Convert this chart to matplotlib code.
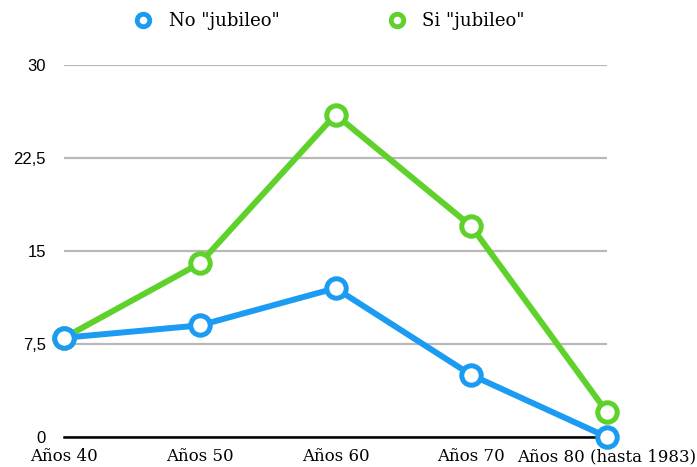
import matplotlib.pyplot as plt
from matplotlib.lines import Line2D

categorias = ["Años 40", "Años 50", "Años 60", "Años 70", "Años 80 (hasta 1983)"]
no_jubileo = [8, 9, 12, 5, 0]
si_jubileo = [8, 14, 26, 17, 2]
yticks = [0, 7.5, 15, 22.5, 30]
ytick_labels = ["0", "7,5", "15", "22,5", "30"]

azul = "#1b9cf2"
verde = "#5fd12b"

fig = plt.figure(figsize=(6.97, 4.67), dpi=100)
ax = fig.add_axes([64 / 697, 1 - 437 / 467, (607 - 64) / 697, (437 - 65) / 467])

x = list(range(len(categorias)))
for vals, col in [(si_jubileo, verde), (no_jubileo, azul)]:
    ax.plot(x, vals, color=col, lw=4.3, marker="o", ms=14, mew=3.6,
            mfc="white", mec=col, clip_on=False, zorder=3)

ax.set_xlim(0, len(categorias) - 1)
ax.set_ylim(0, 30)
ax.set_yticks(yticks)
ax.set_yticklabels(ytick_labels, family="Liberation Sans", fontsize=12)
ax.set_xticks(x)
ax.set_xticklabels(categorias, family="DejaVu Serif", fontsize=12)
ax.tick_params(axis="y", length=0, pad=13)
ax.tick_params(axis="x", length=0, pad=8)
ax.grid(axis="y", color="#b8b8b8", lw=1.6)
ax.set_axisbelow(True)
for s in ["top", "right", "left"]:
    ax.spines[s].set_visible(False)
ax.spines["bottom"].set_linewidth(1.8)
ax.spines["bottom"].set_zorder(2.5)

handles = [Line2D([], [], ls="none", marker="o", ms=9, mew=3.5, mfc="white", mec=azul),
           Line2D([], [], ls="none", marker="o", ms=9, mew=3.5, mfc="white", mec=verde)]
fig.legend(handles, ['No "jubileo"', 'Si "jubileo"'], loc="center", bbox_to_anchor=(325 / 697, 1 - 21 / 467),
           ncol=2, frameon=False, prop={"family": "DejaVu Serif", "size": 13},
           columnspacing=5.5, handletextpad=0.4)

fig.savefig("out.png", dpi=100)
